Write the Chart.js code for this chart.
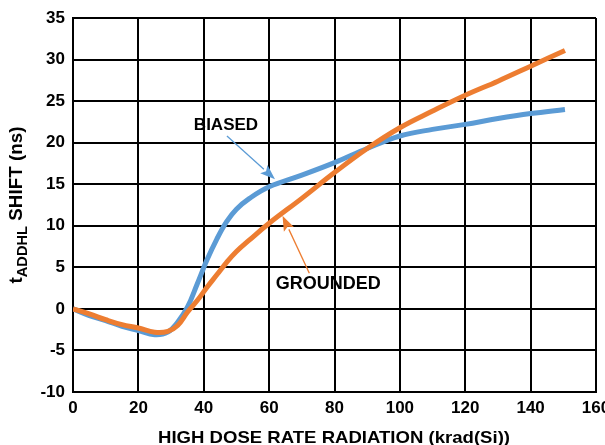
<!DOCTYPE html>
<html lang="en">
<head>
  <meta charset="UTF-8" />
  <title>tADDHL Shift vs High Dose Rate Radiation</title>
  <script src="https://cdn.jsdelivr.net/npm/chart.js"></script>
  <style>
    html, body { margin: 0; padding: 0; background: #fff; }
    .chart-container { width: 605px; height: 445px; }
  </style>
</head>
<body>
  <div class="chart-container">
    <canvas id="shiftChart"></canvas>
  </div>

  <script>
    // dose (krad(Si)) and shift (ns)
    const biasedDose = [0, 5, 10, 15, 20, 25, 29, 32, 35, 38, 41, 44, 47, 50, 54, 60, 70, 80, 90, 100, 110, 120, 130, 140, 150.5];
    const biasedShift = [0, -0.8, -1.4, -2.1, -2.6, -3.1, -2.8, -1.6, 0.2, 3.0, 5.9, 8.4, 10.5, 12.0, 13.3, 14.7, 16.1, 17.6, 19.3, 20.8, 21.6, 22.2, 22.9, 23.5, 24.0];

    const groundedDose = [0, 5, 10, 15, 20, 25, 29, 32, 35, 38, 41, 44, 47, 50, 54, 60, 70, 80, 90, 100, 110, 120, 130, 140, 150.5];
    const groundedShift = [0, -0.6, -1.3, -1.9, -2.3, -2.8, -2.7, -2.0, -0.4, 1.0, 2.6, 4.1, 5.6, 6.9, 8.3, 10.3, 13.3, 16.4, 19.3, 21.8, 23.8, 25.7, 27.4, 29.2, 31.1];

    // callouts: text, label x/y, arrow tail x/y, arrow head x/y (data units), colour, font size
    const callouts = [
      ['BIASED', 46.8, 22.1, 47.1, 20.8, 61.8, 15.6, '#5b9bd5', 17],
      ['GROUNDED', 78.1, 3.0, 72.3, 4.3, 64.1, 11.2, '#ed7d31', 18]
    ];

    const xTitle = 'HIGH DOSE RATE RADIATION (krad(Si))';

    const toPoints = (xs, ys) => xs.map((x, i) => ({ x: x, y: ys[i] }));

    const FONT = '"Liberation Sans", Arial, sans-serif';

    const annotate = {
      id: 'annotate',
      afterDatasetsDraw(chart) {
        const ctx = chart.ctx;
        const xs = chart.scales.x, ys = chart.scales.y;
        ctx.save();
        callouts.forEach(c => {
          const [text, lx, ly, tx, ty, hx, hy, color, size] = c;
          const x0 = xs.getPixelForValue(tx), y0 = ys.getPixelForValue(ty);
          const x1 = xs.getPixelForValue(hx), y1 = ys.getPixelForValue(hy);
          const ang = Math.atan2(y1 - y0, x1 - x0);
          const headLen = 15, headW = 5.5;
          const bx = x1 - headLen * Math.cos(ang), by = y1 - headLen * Math.sin(ang);
          ctx.strokeStyle = color;
          ctx.fillStyle = color;
          ctx.lineWidth = 1.3;
          ctx.beginPath();
          ctx.moveTo(x0, y0);
          ctx.lineTo(bx, by);
          ctx.stroke();
          ctx.beginPath();
          ctx.moveTo(x1, y1);
          ctx.lineTo(bx + headW * Math.sin(ang), by - headW * Math.cos(ang));
          ctx.lineTo(bx + 3 * Math.cos(ang), by + 3 * Math.sin(ang));
          ctx.lineTo(bx - headW * Math.sin(ang), by + headW * Math.cos(ang));
          ctx.closePath();
          ctx.fill();

          ctx.fillStyle = '#000';
          ctx.font = 'bold ' + size + 'px ' + FONT;
          ctx.textAlign = 'center';
          ctx.textBaseline = 'middle';
          ctx.fillText(text, xs.getPixelForValue(lx), ys.getPixelForValue(ly));
        });
        ctx.restore();
      },
      afterDraw(chart) {
        const ctx = chart.ctx;
        const area = chart.chartArea;
        ctx.save();
        ctx.fillStyle = '#000';
        ctx.textBaseline = 'alphabetic';

        // x axis title, stretched a little to the reference width
        ctx.font = 'bold 17px ' + FONT;
        ctx.textAlign = 'center';
        const w = ctx.measureText(xTitle).width;
        ctx.save();
        ctx.translate(334, 443);
        ctx.scale(352 / w, 1);
        ctx.fillText(xTitle, 0, 0);
        ctx.restore();

        // y axis title with subscript
        ctx.translate(22, 205);
        ctx.rotate(-Math.PI / 2);
        const parts = [
          ['t', 'bold 18px ' + FONT, 0],
          ['ADDHL', 'bold 14px ' + FONT, 5],
          [' SHIFT (ns)', 'bold 18px ' + FONT, 0]
        ];
        let total = 0;
        parts.forEach(p => { ctx.font = p[1]; total += ctx.measureText(p[0]).width; });
        ctx.scale(157 / total, 1);
        let cx = -total / 2;
        ctx.textAlign = 'left';
        parts.forEach(p => {
          ctx.font = p[1];
          ctx.fillText(p[0], cx, p[2]);
          cx += ctx.measureText(p[0]).width;
        });
        ctx.restore();
      }
    };

    new Chart(document.getElementById('shiftChart'), {
      type: 'line',
      data: {
        datasets: [
          {
            label: 'BIASED',
            data: toPoints(biasedDose, biasedShift),
            borderColor: '#5b9bd5',
            borderWidth: 5,
            pointRadius: 0,
            tension: 0.4,
            order: 2
          },
          {
            label: 'GROUNDED',
            data: toPoints(groundedDose, groundedShift),
            borderColor: '#ed7d31',
            borderWidth: 5,
            pointRadius: 0,
            tension: 0.4,
            order: 1
          }
        ]
      },
      options: {
        responsive: true,
        maintainAspectRatio: false,
        animation: false,
        layout: { padding: { top: 18, right: 9, left: 0, bottom: 0 } },
        plugins: {
          legend: { display: false },
          tooltip: { enabled: false }
        },
        scales: {
          x: {
            type: 'linear',
            min: 0,
            max: 160,
            ticks: {
              stepSize: 20,
              color: '#000',
              padding: 6,
              font: { family: FONT, size: 17, weight: 'bold' }
            },
            grid: { color: '#000', lineWidth: 2, drawTicks: false },
            border: { color: '#000', width: 2 },
            afterFit: s => { s.height = 53; s.paddingLeft = 0; s.paddingRight = 0; }
          },
          y: {
            min: -10,
            max: 35,
            ticks: {
              stepSize: 5,
              color: '#000',
              padding: 8,
              font: { family: FONT, size: 17, weight: 'bold' }
            },
            grid: { color: '#000', lineWidth: 2, drawTicks: false },
            border: { color: '#000', width: 2 },
            afterFit: s => { s.width = 73; s.paddingTop = 0; s.paddingBottom = 0; }
          }
        }
      },
      plugins: [annotate]
    });
  </script>
</body>
</html>
